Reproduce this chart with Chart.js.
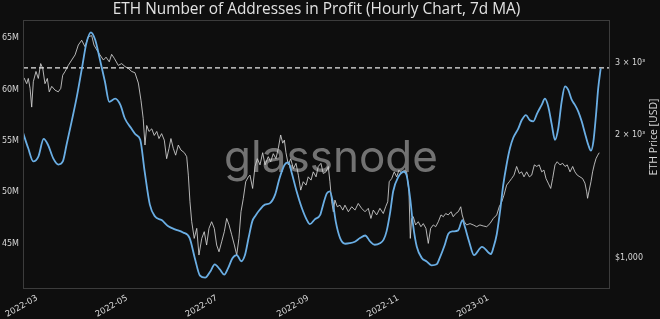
<!DOCTYPE html>
<html>
<head>
<meta charset="utf-8">
<script src="https://cdn.jsdelivr.net/npm/chart.js@4.4.1/dist/chart.umd.min.js"></script>
<style>
  html, body { margin: 0; padding: 0; background: #0e0e0e; }
  #wrap { width: 660px; height: 319px; }
</style>
</head>
<body>
<div id="wrap"><canvas id="chart" width="660" height="319"></canvas></div>
<script>
// days counted from 2022-03-01
const monthTicks = [0, 61, 122, 184, 245, 306];
const monthLabels = ['2022-03', '2022-05', '2022-07', '2022-09', '2022-11', '2023-01'];

const addrTicks = [45, 50, 55, 60, 65];           // millions
const priceTicks = [1000, 2000, 3000];
const priceTickLabels = ['$1,000', '2 × 10³', '3 × 10³'];

const profitLevel = 62.1;                          // current value, dashed line (M)

// addresses in profit, 7d MA (millions)
const addrDays = [
  -9.5, -6, -2.5, 1, 4.5, 7.5, 11, 14.5, 17.5, 20,
  23.5, 27, 30.5, 33.5, 36.5, 39.5, 42.5, 46, 49, 53,
  56.5, 59.5, 64, 67, 70, 73, 76.5, 80, 84.5, 89,
  93.5, 99, 103.5, 107, 110.5, 114, 117.5, 120.5, 124, 127,
  129.5, 132.5, 135.5, 138.5, 141, 143.5, 146, 148, 151, 154.5,
  158, 161.5, 164.5, 168, 170.5, 172.5, 176, 179.5, 183, 185,
  188.5, 192, 194, 196.5, 198.5, 200.5, 202.5, 205.5, 209, 212,
  215.5, 219, 222.5, 226, 229, 232.5, 235, 237, 239.5, 241.5,
  245, 248.5, 250.5, 253, 255, 257.5, 261, 264, 267.5, 271,
  273, 276.5, 279, 282, 285.5, 288.5, 290, 293, 296.3, 301.7,
  307.8, 309.4, 311.7, 313.9, 316.1, 318.4, 320.7, 322.9, 326.3, 328.6,
  331.5, 334.2, 336.5, 339.2, 342.2, 344.4, 346.7, 349, 351.2, 353.4,
  355.7, 358, 360.2, 362.5, 364.7, 367, 369.3, 371.5, 373.8, 375.6,
  377.2, 379, 380.5, 382.2
];
const addrValues = [
  55.8, 54.3, 53.0, 53.5, 55.2, 54.6, 53.3, 52.7, 53.0, 54.6,
  56.9, 59.3, 62.1, 64.5, 65.55, 64.8, 63.0, 60.8, 58.8, 59.1,
  58.5, 57.2, 56.2, 55.6, 55.1, 52.0, 48.8, 47.65, 47.3, 46.7,
  46.4, 46.1, 45.55, 43.6, 41.9, 41.7, 42.3, 43.0, 42.5, 42.0,
  42.6, 43.6, 43.9, 43.3, 43.9, 45.6, 47.2, 47.7, 48.3, 48.8,
  48.95, 49.8, 51.4, 52.7, 52.9, 52.0, 50.1, 48.5, 47.3, 46.9,
  47.4, 47.8, 48.8, 49.9, 50.1, 49.1, 47.2, 45.55, 45.0, 45.05,
  45.2, 45.55, 45.8, 45.2, 44.9, 45.05, 45.4, 46.2, 48.1, 50.1,
  51.5, 52.0, 51.7, 49.4, 46.8, 44.7, 43.6, 43.3, 42.9, 43.0,
  43.6, 44.9, 46.0, 46.2, 46.3, 47.3, 46.7, 45.2, 43.9, 44.7,
  44.0, 44.6, 45.9, 48.1, 50.7, 52.7, 54.3, 55.3, 56.2, 57.0,
  57.5, 57.0, 56.9, 57.7, 58.5, 59.1, 58.3, 56.6, 55.1, 56.2,
  58.8, 60.3, 59.95, 59.0, 58.5, 57.85, 56.9, 55.75, 54.6, 54.05,
  54.9, 57.5, 60.1, 62.05
];

// ETH price, hourly (USD)
const priceDays = [
  -8.8, -7, -5.9, -4.7, -3.6, -2.5, -0.7, 0.9, 2.5, 3.9,
  5.4, 7, 8.3, 10, 12.2, 14.4, 16.1, 17.4, 19, 21.2,
  23.5, 25.8, 28, 30.3, 32.5, 34.8, 37.1, 38.6, 40.5, 42.7,
  45, 46.8, 49, 50.6, 52.4, 55.1, 57.4, 59.7, 61.9, 64.2,
  66.4, 68.7, 70.5, 72, 73.2, 74.4, 75.9, 77.8, 79.5, 81.2,
  82.7, 84.5, 86.3, 87.9, 89.5, 90.8, 92.4, 94, 95.8, 97.6,
  99.9, 101.5, 102.6, 103.7, 104.9, 106.6, 108.3, 109.8, 111.7, 113.4,
  115, 116.6, 118.4, 120.2, 121.8, 123.4, 125.2, 127, 128.6, 130.2,
  132, 133.8, 135.4, 136.9, 138.3, 139.9, 141.5, 143.3, 144.4, 146.2,
  147.8, 149.4, 151.2, 153, 154.6, 156.8, 158.4, 160.2, 162, 163.6,
  165.2, 166.6, 167.7, 168.8, 170.4, 172, 173.8, 175.6, 177.2, 178.8,
  180.5, 182.4, 183.9, 185.8, 187.3, 189.2, 190.7, 192.5, 194.1, 195.9,
  197.5, 198.6, 199.8, 200.9, 202, 203.6, 205.4, 207.3, 208.8, 211.1,
  213.4, 215.6, 217.8, 220.1, 222.4, 224.6, 226.4, 228, 230.3, 232.5,
  234.8, 236.4, 237.8, 238.8, 240.5, 242.2, 243.9, 245.4, 247.3, 249,
  250.6, 252.2, 253.1, 254, 255.1, 256.7, 258.5, 260.3, 261.9, 263.7,
  265.3, 266.9, 268.7, 270.3, 272.1, 273.9, 275.5, 277.1, 278.8, 280.7,
  282.2, 283.9, 285.6, 287.3, 288.3, 289.7, 291.3, 293.6, 295.8, 298.1,
  300.3, 302.6, 304.9, 307.1, 309.4, 311.7, 313.4, 315.1, 316.6, 318.4,
  320.2, 321.8, 323.4, 325.2, 327, 328.6, 330.2, 332, 333.8, 335.4,
  337.2, 338.8, 340.5, 342.2, 343.7, 345.1, 346.6, 348.3, 349.6, 351.2,
  352.7, 354.6, 356.4, 358, 359.5, 361.4, 363.2, 364.7, 366.3, 368.1,
  369.9, 371.5, 372.7, 373.3, 374.4, 375.6, 376.7, 377.8, 379, 380.2,
  381.2
];
const priceValues = [
  2760, 2670, 2750, 2600, 2340, 2700, 2860, 2750, 2990, 2910,
  2670, 2750, 2550, 2630, 2575, 2550, 2600, 2800, 2860, 2960,
  3050, 3140, 3320, 3410, 3290, 3480, 3500, 3320, 3230, 3140,
  3050, 3100, 3020, 3150, 3080, 2960, 2990, 2940, 2910, 2860,
  2840, 2680, 2430, 2195, 1890, 2110, 2040, 2070, 1995, 2040,
  1960, 2015, 1943, 1750, 1855, 1960, 1855, 1785, 1890, 1837,
  1810, 1770, 1595, 1373, 1227, 1117, 1182, 1017, 1117, 1160,
  1076, 1182, 1227, 1182, 1076, 1036, 1096, 1160, 1250, 1205,
  1140, 1076, 1017, 1117, 1298, 1400, 1537, 1580, 1595, 1480,
  1675, 1750, 1690, 1810, 1690, 1770, 1720, 1800, 1750, 1855,
  2000, 1910, 1943, 1810, 1690, 1750, 1655, 1705, 1595, 1466,
  1537, 1508, 1580, 1551, 1625, 1580, 1675, 1705, 1610, 1625,
  1675, 1537, 1373, 1298, 1386, 1335, 1347, 1310, 1347, 1298,
  1335, 1310, 1360, 1323, 1298, 1323, 1250, 1310, 1275, 1323,
  1285, 1335, 1373, 1537, 1565, 1625, 1580, 1641, 1610, 1641,
  1625, 1452, 1117, 1250, 1262, 1205, 1227, 1193, 1214, 1182,
  1086, 1182, 1205, 1193, 1227, 1275, 1262, 1285, 1275, 1298,
  1262, 1285, 1298, 1335, 1275, 1227, 1205, 1214, 1205, 1193,
  1205, 1198, 1193, 1214, 1250, 1275, 1335, 1373, 1425, 1508,
  1537, 1565, 1595, 1675, 1610, 1625, 1580, 1625, 1580, 1595,
  1690, 1675, 1690, 1625, 1641, 1565, 1525, 1480, 1565, 1690,
  1720, 1690, 1705, 1675, 1690, 1625, 1675, 1625, 1595, 1580,
  1565, 1525, 1452, 1400, 1466, 1537, 1625, 1690, 1750, 1785,
  1810
];

const dayMin = -9.5, dayMax = 388.5;

const bg = '#0e0e0e';
const txt = '#d6d6d6';

const decor = {
  id: 'decor',
  beforeDraw(chart) {
    const ctx = chart.ctx;
    ctx.save();
    ctx.fillStyle = bg;
    ctx.fillRect(0, 0, chart.width, chart.height);
    ctx.restore();
  },
  beforeDatasetsDraw(chart) {
    const ctx = chart.ctx;
    ctx.save();
    ctx.fillStyle = 'rgba(140,140,140,0.8)';
    ctx.font = '44px Inter';
    ctx.textAlign = 'center';
    ctx.textBaseline = 'alphabetic';
    ctx.fillText('glassnode', 331, 172);
    ctx.restore();
  },
  afterDraw(chart) {
    const ctx = chart.ctx, a = chart.chartArea;
    ctx.save();
    ctx.strokeStyle = '#3c3c3c';
    ctx.lineWidth = 1;
    ctx.strokeRect(a.left + 0.5, a.top + 0.5, a.right - a.left - 1, a.bottom - a.top - 1);

    ctx.fillStyle = '#e2e2e2';
    ctx.font = '15.4px "Open Sans"';
    ctx.textAlign = 'center';
    ctx.textBaseline = 'middle';
    ctx.fillText('ETH Number of Addresses in Profit (Hourly Chart, 7d MA)', (a.left + a.right) / 2, 10);

    ctx.translate(654, 137);
    ctx.rotate(-Math.PI / 2);
    ctx.fillStyle = txt;
    ctx.font = '10.5px "Open Sans"';
    ctx.fillText('ETH Price [USD]', 0, 0);
    ctx.restore();
  }
};

new Chart(document.getElementById('chart'), {
  type: 'line',
  data: {
    datasets: [
      {
        label: 'Addresses in Profit',
        data: addrDays.map((d, i) => ({ x: d, y: addrValues[i] })),
        yAxisID: 'y',
        borderColor: '#6aaee4',
        borderWidth: 1.8,
        pointRadius: 0,
        cubicInterpolationMode: 'monotone'
      },
      {
        label: 'Current',
        data: [{ x: dayMin, y: profitLevel }, { x: dayMax, y: profitLevel }],
        yAxisID: 'y',
        borderColor: '#e8e8e8',
        borderWidth: 1.2,
        borderDash: [5, 3],
        pointRadius: 0
      },
      {
        label: 'ETH Price',
        data: priceDays.map((d, i) => ({ x: d, y: priceValues[i] })),
        yAxisID: 'y1',
        borderColor: 'rgba(210,210,210,0.85)',
        borderWidth: 1,
        pointRadius: 0,
        tension: 0
      }
    ]
  },
  options: {
    responsive: false,
    animation: false,
    devicePixelRatio: 1,
    layout: { padding: { top: 20, left: 0, right: 0, bottom: 0 } },
    plugins: { legend: { display: false }, tooltip: { enabled: false }, title: { display: false } },
    scales: {
      x: {
        type: 'linear',
        min: dayMin, max: dayMax,
        grid: { display: false, drawTicks: false },
        border: { display: false },
        afterBuildTicks: s => { s.ticks = monthTicks.map(v => ({ value: v })); },
        afterFit: s => { s.height = 30; s.paddingLeft = 0; s.paddingRight = 0; },
        ticks: {
          autoSkip: false, minRotation: 30, maxRotation: 30, padding: 4,
          color: txt, font: { family: 'DejaVu Sans', size: 8.5 },
          callback: v => monthLabels[monthTicks.indexOf(v)]
        }
      },
      y: {
        position: 'left',
        min: 40.6, max: 66.75,
        grid: { display: false, drawTicks: false },
        border: { display: false },
        afterBuildTicks: s => { s.ticks = addrTicks.map(v => ({ value: v })); },
        afterFit: s => { s.width = 23; },
        ticks: {
          padding: 4, color: txt, font: { family: 'DejaVu Sans', size: 8 },
          callback: v => v + 'M'
        }
      },
      y1: {
        type: 'logarithmic',
        position: 'right',
        min: 840, max: 3822,
        grid: { display: false, drawTicks: false },
        border: { display: false },
        afterBuildTicks: s => { s.ticks = priceTicks.map(v => ({ value: v })); },
        afterFit: s => { s.width = 50; },
        ticks: {
          padding: 5, color: txt, font: { family: 'DejaVu Sans', size: 8 },
          callback: v => priceTickLabels[priceTicks.indexOf(v)]
        }
      }
    }
  },
  plugins: [decor]
});
</script>
</body>
</html>
